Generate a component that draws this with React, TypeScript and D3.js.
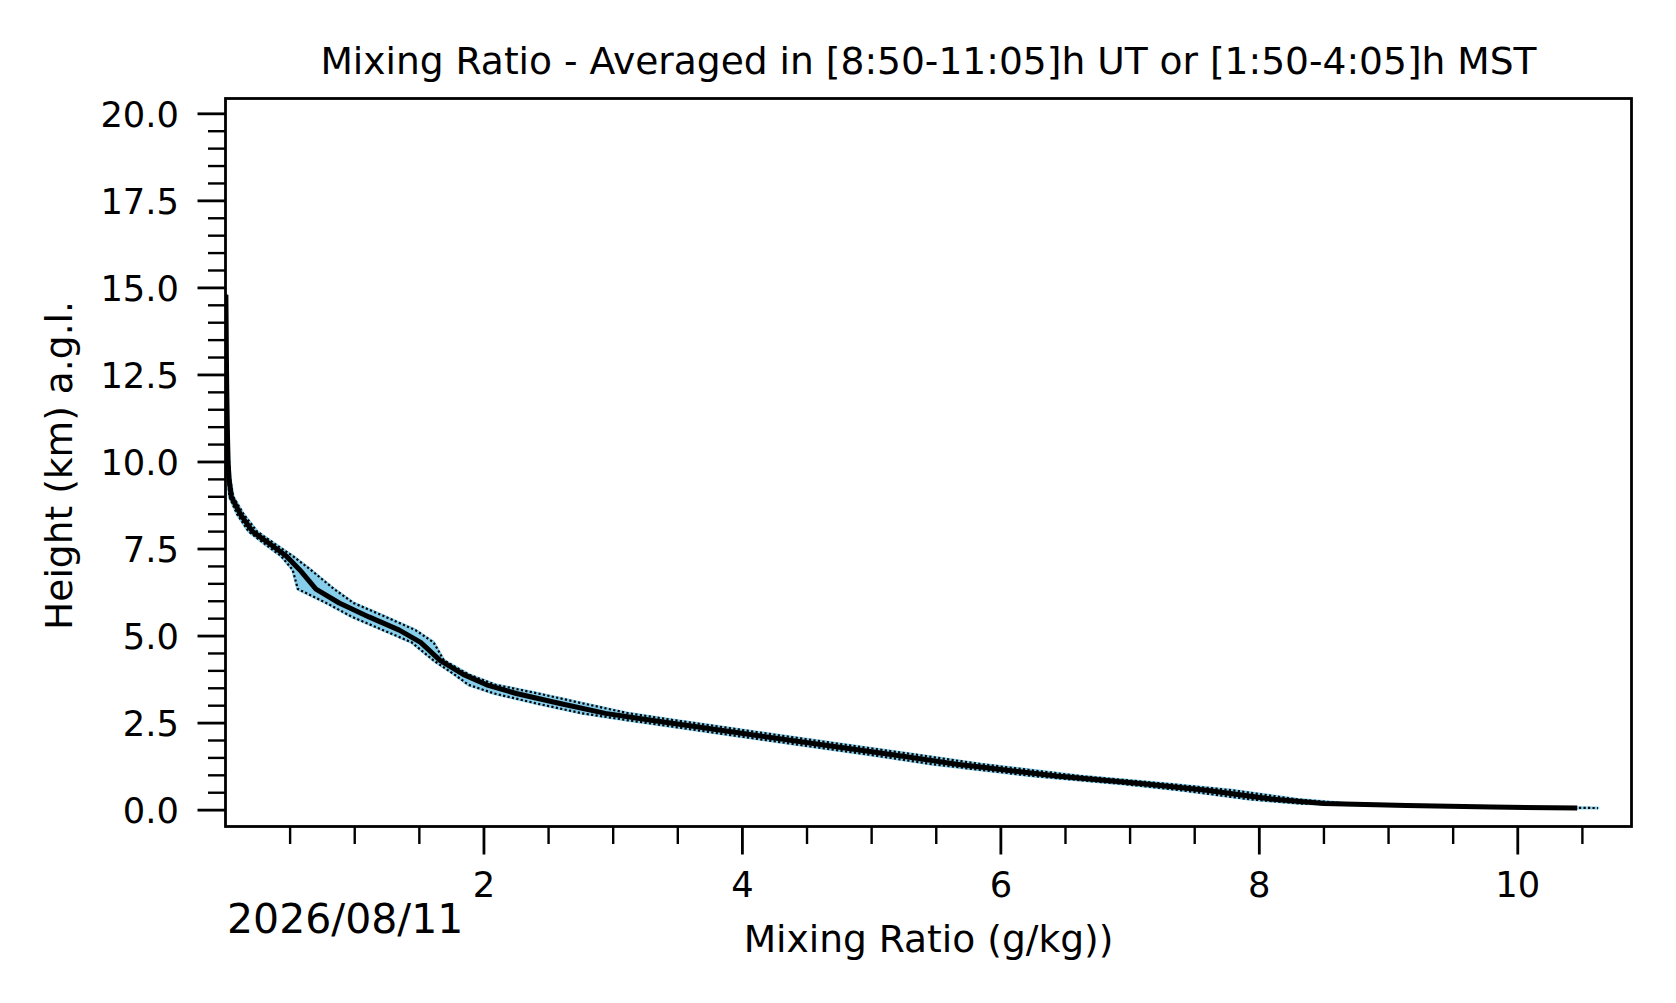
import * as d3 from "d3"

// profile heights (km a.g.l.)
const heights = [
  14.8, 14.0, 13.0, 12.0, 11.0, 10.0, 9.5, 9.0, 8.5, 8.0, 7.6, 7.3, 6.9, 6.35, 5.95, 5.55, 5.17, 4.82, 4.3,
  3.9, 3.6, 3.35, 3.07, 2.78, 2.59, 2.41, 2.15, 1.87, 1.6, 1.32, 0.98, 0.75, 0.57, 0.31, 0.19, 0.13, 0.09, 0.06,
]
// averaged mixing ratio (g/kg)
const meanRatio = [
  0.003, 0.005, 0.007, 0.01, 0.014, 0.02, 0.028, 0.045, 0.115, 0.21, 0.36, 0.47, 0.575, 0.7, 0.88, 1.11, 1.345, 1.51,
  1.66, 1.84, 2.02, 2.25, 2.58, 2.94, 3.28, 3.62, 4.1, 4.63, 5.15, 5.66, 6.43, 7.12, 7.59, 8.11, 8.5, 9.14, 9.8, 10.46,
]
// mean - std
const lowerRatio = [
  0.001, 0.002, 0.004, 0.006, 0.009, 0.013, 0.02, 0.03, 0.09, 0.18, 0.32, 0.43, 0.52, 0.56, 0.78, 0.98, 1.22, 1.44,
  1.61, 1.77, 1.88, 2.08, 2.4, 2.76, 3.1, 3.44, 3.92, 4.45, 4.97, 5.47, 6.25, 6.95, 7.4, 7.93, 8.32, 8.97, 9.63, 10.3,
]
// mean + std
const upperRatio = [
  0.005, 0.008, 0.01, 0.014, 0.019, 0.027, 0.036, 0.06, 0.14, 0.245, 0.4, 0.52, 0.66, 0.84, 0.99, 1.24, 1.47, 1.61,
  1.69, 1.88, 2.09, 2.42, 2.76, 3.12, 3.46, 3.8, 4.28, 4.81, 5.33, 5.85, 6.61, 7.3, 7.79, 8.29, 8.68, 9.31, 9.97, 10.62,
]

const xMajorTicks = [2, 4, 6, 8, 10]
const xMinorTicks = [0.5, 1, 1.5, 2.5, 3, 3.5, 4.5, 5, 5.5, 6.5, 7, 7.5, 8.5, 9, 9.5, 10.5]
const yMajorTicks = [0, 2.5, 5, 7.5, 10, 12.5, 15, 17.5, 20]
const yMinorTicks = d3.range(1, 40).map((i) => i * 0.5).filter((v) => v % 2.5 !== 0)

const title = "Mixing Ratio - Averaged in [8:50-11:05]h UT or [1:50-4:05]h MST"
const xLabel = "Mixing Ratio (g/kg))"
const yLabel = "Height (km) a.g.l."
const dateLabel = "2026/08/11"

const width = 1676
const height = 1003
const plot = { left: 225.5, right: 1631.5, top: 98.5, bottom: 826.5 }
const font = "DejaVu Sans, sans-serif"
const tickFs = 35.3
const labelFs = 37.6

interface Row {
  h: number
  m: number
  lo: number
  hi: number
}

export default function App() {
  const rows: Row[] = heights.map((h, i) => ({ h, m: meanRatio[i], lo: lowerRatio[i], hi: upperRatio[i] }))

  const x = d3.scaleLinear().domain([0, 10.88]).range([plot.left, plot.right])
  const y = d3.scaleLinear().domain([-0.47, 20.44]).range([plot.bottom, plot.top])

  const band = d3
    .area<Row>()
    .y((d) => y(d.h))
    .x0((d) => x(d.lo))
    .x1((d) => x(d.hi))
  const meanLine = d3
    .line<Row>()
    .x((d) => x(d.m))
    .y((d) => y(d.h))
  const loLine = d3
    .line<Row>()
    .x((d) => x(d.lo))
    .y((d) => y(d.h))
  const hiLine = d3
    .line<Row>()
    .x((d) => x(d.hi))
    .y((d) => y(d.h))

  const majorLen = 28
  const minorLen = 17.5

  return (
    <svg
      width={width}
      height={height}
      style={{ position: "absolute", left: 0, top: 0, background: "#fff" }}
      fontFamily={font}
    >
      <rect x={0} y={0} width={width} height={height} fill="#fff" />
      <defs>
        <clipPath id="plotClip">
          <rect x={plot.left} y={plot.top} width={plot.right - plot.left} height={plot.bottom - plot.top} />
        </clipPath>
      </defs>

      <g clipPath="url(#plotClip)">
        <path d={band(rows) || ""} fill="#87ceeb" stroke="#87ceeb" strokeWidth={3} strokeLinejoin="round" />
        <path d={meanLine(rows) || ""} fill="none" stroke="#000" strokeWidth={5} strokeLinejoin="round" />
        <path d={loLine(rows) || ""} fill="none" stroke="#000" strokeWidth={2.2} strokeDasharray="2.2 2.3" />
        <path d={hiLine(rows) || ""} fill="none" stroke="#000" strokeWidth={2.2} strokeDasharray="2.2 2.3" />
      </g>

      {/* frame */}
      <rect
        x={plot.left}
        y={plot.top}
        width={plot.right - plot.left}
        height={plot.bottom - plot.top}
        fill="none"
        stroke="#000"
        strokeWidth={2.8}
      />

      {/* x ticks */}
      {xMinorTicks.map((t) => (
        <line key={`xm${t}`} x1={x(t)} x2={x(t)} y1={plot.bottom} y2={plot.bottom + minorLen} stroke="#000" strokeWidth={2.4} />
      ))}
      {xMajorTicks.map((t) => (
        <g key={`xM${t}`}>
          <line x1={x(t)} x2={x(t)} y1={plot.bottom} y2={plot.bottom + majorLen} stroke="#000" strokeWidth={2.8} />
          <text x={x(t)} y={897} textAnchor="middle" fontSize={tickFs} fill="#000">
            {t}
          </text>
        </g>
      ))}

      {/* y ticks */}
      {yMinorTicks.map((t) => (
        <line key={`ym${t}`} x1={plot.left - minorLen} x2={plot.left} y1={y(t)} y2={y(t)} stroke="#000" strokeWidth={2.4} />
      ))}
      {yMajorTicks.map((t) => (
        <g key={`yM${t}`}>
          <line x1={plot.left - majorLen} x2={plot.left} y1={y(t)} y2={y(t)} stroke="#000" strokeWidth={2.8} />
          <text x={179} y={y(t) + 12.8} textAnchor="end" fontSize={tickFs} fill="#000">
            {t.toFixed(1)}
          </text>
        </g>
      ))}

      {/* labels */}
      <text x={(plot.left + plot.right) / 2} y={73.5} textAnchor="middle" fontSize={labelFs} fill="#000">
        {title}
      </text>
      <text x={(plot.left + plot.right) / 2} y={952} textAnchor="middle" fontSize={labelFs} fill="#000">
        {xLabel}
      </text>
      <text
        transform={`translate(72, ${(plot.top + plot.bottom) / 2 + 3}) rotate(-90)`}
        textAnchor="middle"
        fontSize={labelFs}
        fill="#000"
      >
        {yLabel}
      </text>
      <text x={227} y={933} fontSize={41} fill="#000">
        {dateLabel}
      </text>
    </svg>
  )
}
